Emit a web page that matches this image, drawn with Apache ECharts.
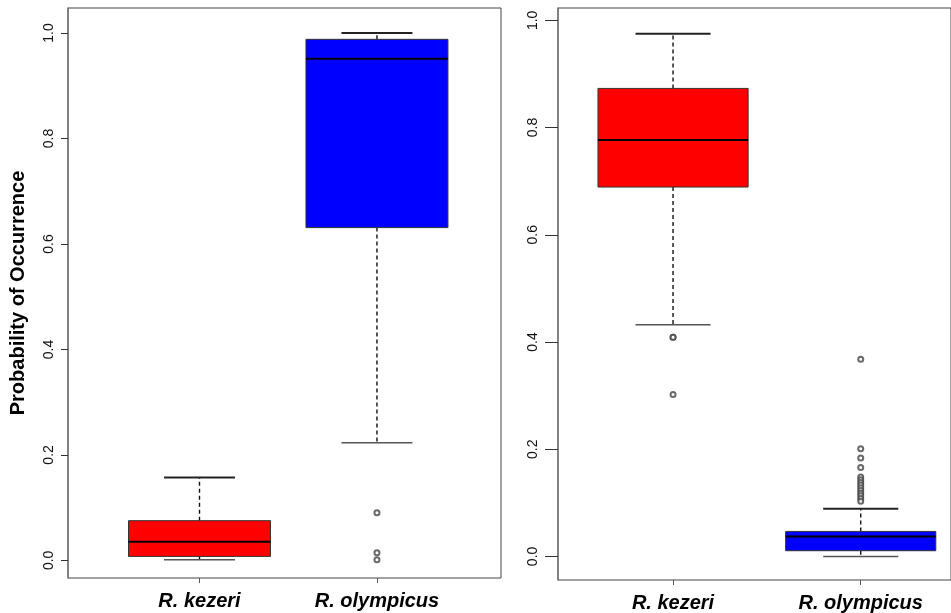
<!DOCTYPE html>
<html>
<head>
<meta charset="utf-8">
<script src="https://cdn.jsdelivr.net/npm/echarts@6/dist/echarts.min.js"></script>
<style>
  html, body { margin: 0; padding: 0; background: #fff; }
  #chart { width: 951px; height: 613px; }
</style>
</head>
<body>
<div id="chart"></div>
<script>
  var categories = ['R. kezeri', 'R. olympicus'];
  var yTicks = [0, 0.2, 0.4, 0.6, 0.8, 1.0];
  var boxColors = ['#ff0000', '#0000ff'];

  // [lower whisker, Q1, median, Q3, upper whisker]
  var leftStats = [
      [0.0013, 0.0076, 0.0355, 0.0753, 0.157],
      [0.223, 0.631, 0.951, 0.988, 1.0]
  ];
  var leftOutliers = [
      [],
      [0.0904, 0.0146, 0.0013]
  ];

  var rightStats = [
      [0.432, 0.689, 0.777, 0.873, 0.975],
      [0.0, 0.0106, 0.0373, 0.0466, 0.089]
  ];
  var rightOutliers = [
      [0.409, 0.409, 0.302],
      [0.368, 0.201, 0.1836, 0.166, 0.148, 0.143, 0.138, 0.133, 0.128, 0.123, 0.118, 0.113, 0.108, 0.103]
  ];

  var dom = document.getElementById('chart');
  var myChart = echarts.init(dom, null, {renderer: 'canvas'});

  function boxData(stats) {
      return stats.map(function (s, i) {
          return {value: [i + 1].concat(s), itemStyle: {color: boxColors[i]}};
      });
  }
  function outlierData(outs) {
      var res = [];
      outs.forEach(function (list, i) {
          list.forEach(function (v) { res.push([i + 1, v]); });
      });
      return res;
  }

  function renderBox(params, api) {
      var x = api.value(0);
      var lo = api.coord([x, api.value(1)]);
      var q1 = api.coord([x, api.value(2)]);
      var md = api.coord([x, api.value(3)]);
      var q3 = api.coord([x, api.value(4)]);
      var hi = api.coord([x, api.value(5)]);
      var w = api.size([0.8, 0])[0];
      var cx = lo[0];
      var half = w / 2, cap = w / 4;
      var fill = api.visual('color');
      return {
          type: 'group',
          children: [
              {type: 'line', shape: {x1: cx, y1: q3[1], x2: cx, y2: hi[1]},
               style: {stroke: '#111', lineWidth: 1.4, lineDash: [4, 3]}},
              {type: 'line', shape: {x1: cx, y1: q1[1], x2: cx, y2: lo[1]},
               style: {stroke: '#111', lineWidth: 1.4, lineDash: [4, 3]}},
              {type: 'line', shape: {x1: cx - cap, y1: hi[1], x2: cx + cap, y2: hi[1]},
               style: {stroke: '#222', lineWidth: 2}},
              {type: 'line', shape: {x1: cx - cap, y1: lo[1], x2: cx + cap, y2: lo[1]},
               style: {stroke: '#555', lineWidth: 1.5}},
              {type: 'rect', shape: {x: cx - half, y: q3[1], width: w, height: q1[1] - q3[1]},
               style: {fill: fill, stroke: '#333', lineWidth: 1}},
              {type: 'line', shape: {x1: cx - half, y1: md[1], x2: cx + half, y2: md[1]},
               style: {stroke: '#000', lineWidth: 2}}
          ]
      };
  }

  var tickFont = {fontFamily: 'Liberation Sans', fontSize: 14, color: '#111'};

  function yAxisFor(grid, min, max, tickLen, margin, name) {
      return {
          gridIndex: grid, type: 'value', min: min, max: max,
          name: name, nameLocation: 'middle', nameGap: 40,
          nameTextStyle: {fontFamily: 'Liberation Sans', fontSize: 20, fontWeight: 'bold', color: '#000'},
          axisLine: {show: true, lineStyle: {color: '#777', width: 1.5}},
          axisTick: {show: true, length: tickLen, customValues: yTicks, lineStyle: {color: '#333'}},
          axisLabel: Object.assign({rotate: 90, margin: margin, customValues: yTicks,
              formatter: function (v) { return v.toFixed(1); }}, tickFont),
          splitLine: {show: false}
      };
  }
  function xAxisFor(grid, min, max) {
      return {
          gridIndex: grid, type: 'value', min: min, max: max, position: 'bottom',
          axisLine: {show: false, onZero: false},
          axisTick: {show: true, length: 5, customValues: [1, 2], lineStyle: {color: '#555'}},
          axisLabel: {customValues: [1, 2], margin: 13,
              fontFamily: 'Liberation Sans', fontSize: 20, fontWeight: 'bold', fontStyle: 'italic', color: '#000',
              formatter: function (v) { return categories[Math.round(v) - 1]; }},
          splitLine: {show: false}
      };
  }

  var option = {
      animation: false,
      backgroundColor: '#fff',
      grid: [
          {left: 68, top: 8, width: 433, height: 570, show: true, borderColor: '#444', borderWidth: 1},
          {left: 558, top: 8, width: 394, height: 572, show: true, borderColor: '#444', borderWidth: 1}
      ],
      xAxis: [xAxisFor(0, 0.259, 2.699), xAxisFor(1, 0.387, 2.481)],
      yAxis: [
          yAxisFor(0, -0.0334, 1.0474, 7, 12, 'Probability of Occurrence'),
          yAxisFor(1, -0.044, 1.023, 13, 18, '')
      ],
      series: [
          {type: 'custom', xAxisIndex: 0, yAxisIndex: 0, renderItem: renderBox,
           encode: {x: 0, y: [1, 2, 3, 4, 5]}, data: boxData(leftStats)},
          {type: 'custom', xAxisIndex: 1, yAxisIndex: 1, renderItem: renderBox,
           encode: {x: 0, y: [1, 2, 3, 4, 5]}, data: boxData(rightStats)},
          {type: 'scatter', xAxisIndex: 0, yAxisIndex: 0, symbol: 'emptyCircle', symbolSize: 5,
           itemStyle: {color: '#444', borderWidth: 1.2}, data: outlierData(leftOutliers)},
          {type: 'scatter', xAxisIndex: 1, yAxisIndex: 1, symbol: 'emptyCircle', symbolSize: 5,
           itemStyle: {color: '#444', borderWidth: 1.2}, data: outlierData(rightOutliers)}
      ]
  };
  myChart.setOption(option, true);
</script>
</body>
</html>
